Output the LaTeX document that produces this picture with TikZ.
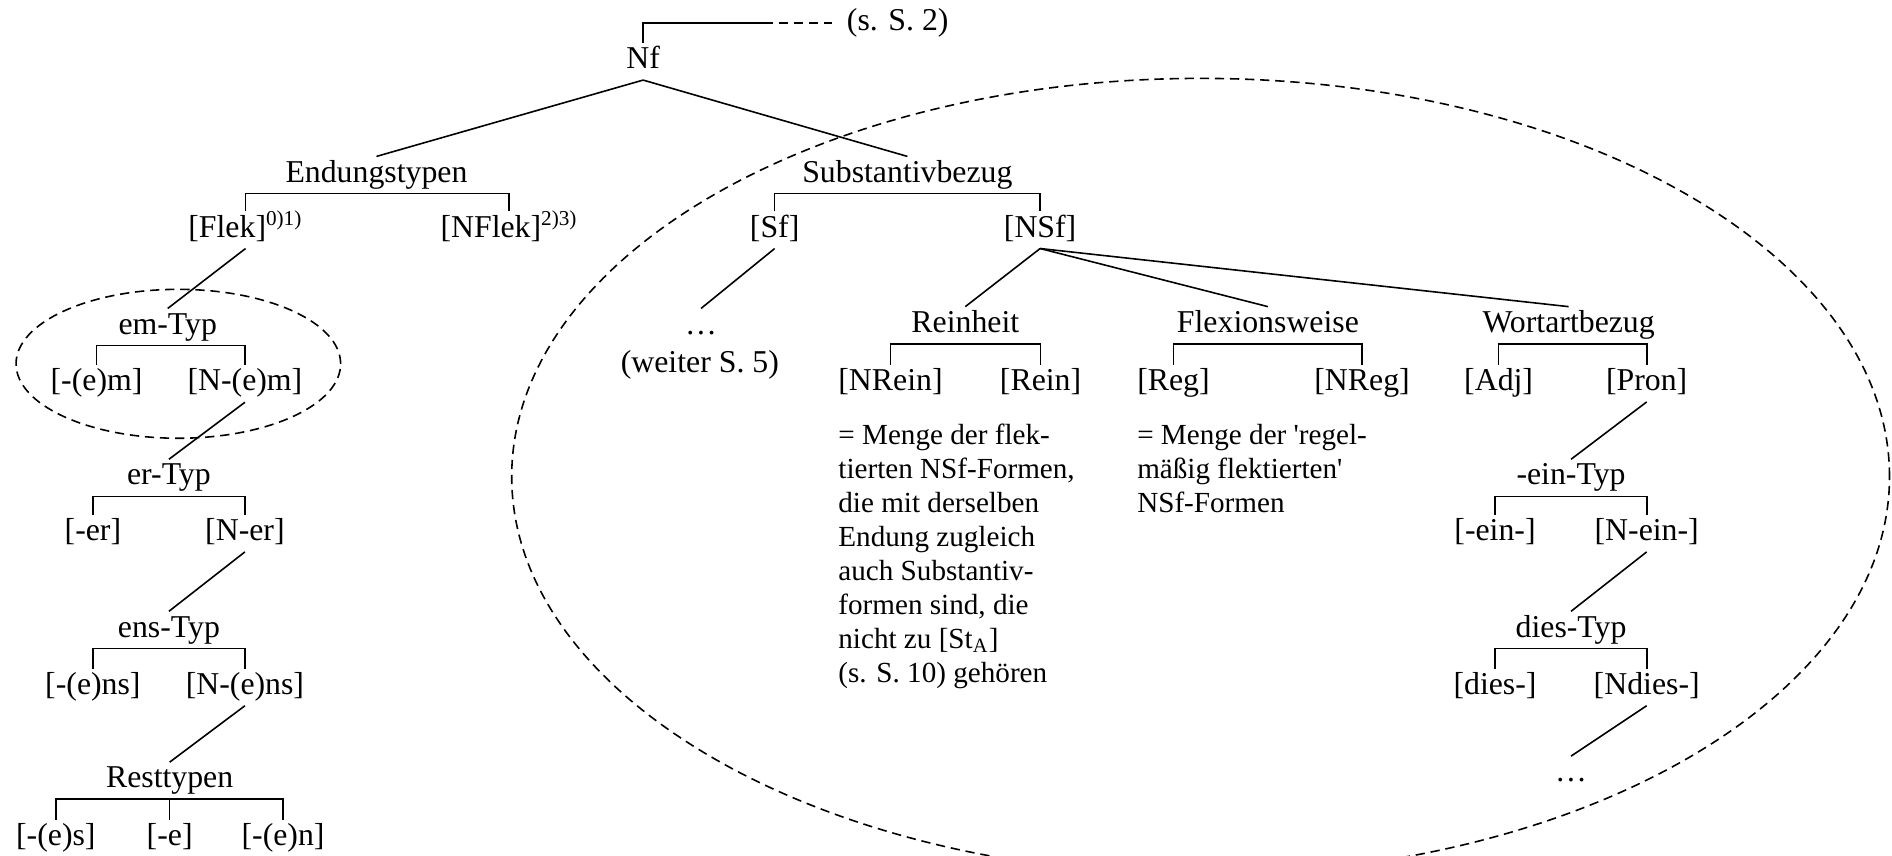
\documentclass[tikz,border=0pt]{standalone}
\usepackage{fontspec}
\setmainfont{Liberation Serif}
\usetikzlibrary{positioning,calc}
\tikzset{
    every node/.style={font=\fontsize{12}{14}\selectfont},
    treenode/.style={inner sep=1pt, text height=8.4pt, text depth=3pt},
    notetext/.style={font=\fontsize{11}{12.8}\selectfont, align=left, inner sep=0pt, anchor=north west},
    branch/.style={line width=0.6pt},
    dashline/.style={line width=0.6pt, dash pattern=on 3.5pt off 2.2pt},
}

\begin{document}
\begin{tikzpicture}[x=0.4554pt, y=-0.4554pt, branch]
  \useasboundingbox (0,0) rectangle (1568,709);
  \node[treenode] (nf) at (533,51) {Nf};
  \node[treenode] (ref) at (744,19) {(s. S. 2)};
  \node[treenode] (endung) at (312,145) {Endungstypen};
  \node[treenode] (subst) at (752,145) {Substantivbezug};
  \node[treenode] (flek) at (203.5,190.6) {[Flek]\textsuperscript{0)1)}};
  \node[treenode] (nflek) at (422,190.6) {[NFlek]\textsuperscript{2)3)}};
  \node[treenode] (sf) at (642,190.6) {[Sf]};
  \node[treenode] (nsf) at (862,190.6) {[NSf]};
  % Endungstypen
  \node[treenode] (emtyp) at (139,271) {em-Typ};
  \node[treenode] (em) at (80,318) {[-(e)m]};
  \node[treenode] (nem) at (203,318) {[N-(e)m]};
  \node[treenode] (ertyp) at (140,396) {er-Typ};
  \node[treenode] (er) at (77,442) {[-er]};
  \node[treenode] (ner) at (203,442) {[N-er]};
  \node[treenode] (enstyp) at (140,522) {ens-Typ};
  \node[treenode] (ens) at (77,569.5) {[-(e)ns]};
  \node[treenode] (nens) at (203,569.5) {[N-(e)ns]};
  \node[treenode] (rest) at (140.6,647) {Resttypen};
  \node[treenode] (rs) at (46.3,695) {[-(e)s]};
  \node[treenode] (re) at (140.6,695) {[-e]};
  \node[treenode] (rn) at (234.6,695) {[-(e)n]};
  % Substantivbezug
  \node[treenode] (sfdots) at (581,271) {…};
  \node[treenode] (weiter) at (580,302.5) {(weiter S. 5)};
  \node[treenode] (rein) at (800,269.5) {Reinheit};
  \node[treenode] (nrein) at (738,317.7) {[NRein]};
  \node[treenode] (reinp) at (862.4,317.7) {[Rein]};
  \node[treenode] (flex) at (1050.8,269.5) {Flexionsweise};
  \node[treenode] (reg) at (972.5,317.7) {[Reg]};
  \node[treenode] (nreg) at (1128.8,317.7) {[NReg]};
  \node[treenode] (wort) at (1300,269.5) {Wortartbezug};
  \node[treenode] (adj) at (1242,317.7) {[Adj]};
  \node[treenode] (pron) at (1364.7,317.7) {[Pron]};
  \node[treenode] (eintyp) at (1302,396) {-ein-Typ};
  \node[treenode] (ein) at (1239,442) {[-ein-]};
  \node[treenode] (nein) at (1364.7,442) {[N-ein-]};
  \node[treenode] (diestyp) at (1302,522) {dies-Typ};
  \node[treenode] (dies) at (1239,569.5) {[dies-]};
  \node[treenode] (ndies) at (1364.7,569.5) {[Ndies-]};
  \node[treenode] (wdots) at (1302,642) {…};
  \node[notetext] (reinnote) at ($(nrein.west)+(2.2,33.3)$) {= Menge der flek-\\tierten NSf-Formen,\\die mit derselben\\Endung zugleich\\auch Substantiv-\\formen sind, die\\nicht zu [St\textsubscript{A}]\\(s. S. 10) gehören};
  \node[notetext] (regnote) at ($(reg.west)+(2.2,33.3)$) {= Menge der \textquotesingle regel-\\mäßig flektierten\textquotesingle\\NSf-Formen};

  \draw (nf.north) -- (nf.north |- ref) -- ++(100,0) coordinate (dashstart);
  \draw[dashline, shorten >=4.5pt] (dashstart) -- (ref.west);
  \draw (nf.south) -- (endung.north);
  \draw (nf.south) -- (subst.north);
  \draw (flek.north) |- (endung.south) -| (nflek.north);
  \draw (sf.north) |- (subst.south) -| (nsf.north);
  \draw (flek.south) -- (emtyp.north);
  \draw (em.north) |- (emtyp.south) -| (nem.north);
  \draw (nem.south) -- (ertyp.north);
  \draw (er.north) |- (ertyp.south) -| (ner.north);
  \draw (ner.south) -- (enstyp.north);
  \draw (ens.north) |- (enstyp.south) -| (nens.north);
  \draw (nens.south) -- (rest.north);
  \draw (rs.north) |- (rest.south) -| (rn.north);
  \draw (re.north) -- (re.north |- rest.south);
  \draw (sf.south) -- (sfdots.north);
  \draw (nsf.south) -- (rein.north);
  \draw (nsf.south) -- (flex.north);
  \draw (nsf.south) -- (wort.north);
  \draw (nrein.north) |- (rein.south) -| (reinp.north);
  \draw (reg.north) |- (flex.south) -| (nreg.north);
  \draw (adj.north) |- (wort.south) -| (pron.north);
  \draw (pron.south) -- (eintyp.north);
  \draw (ein.north) |- (eintyp.south) -| (nein.north);
  \draw (nein.south) -- (diestyp.north);
  \draw (dies.north) |- (diestyp.south) -| (ndies.north);
  \draw (ndies.south) -- (wdots.north);
  % groups
  \draw[dashline] (147.8,301.5) ellipse [x radius=61.25pt, y radius=28.1pt];
  \draw[dashline] (995,395) ellipse [x radius=260pt, y radius=150.3pt];
\end{tikzpicture}
\end{document}
